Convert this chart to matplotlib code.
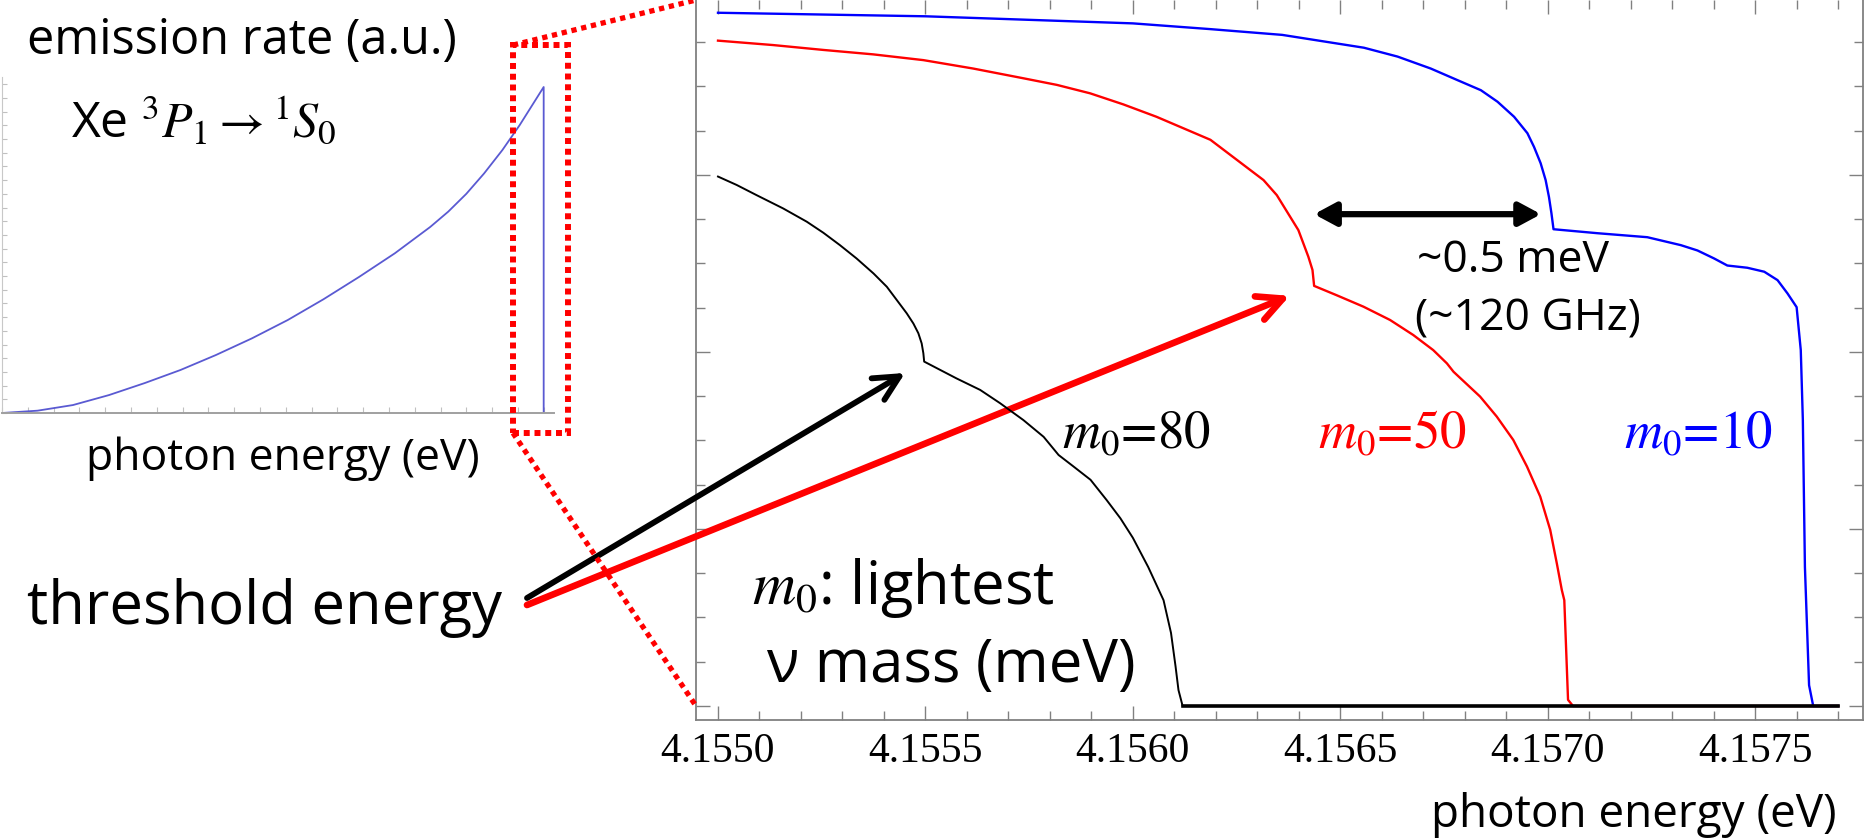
import matplotlib
matplotlib.use('Agg')
import matplotlib.pyplot as plt
from matplotlib.patches import Rectangle
from matplotlib.lines import Line2D
from matplotlib.ticker import MultipleLocator, FormatStrFormatter

# 数据
# main plot: emission rate near the threshold, y in tick units
black_x = [4.155000, 4.155045, 4.155093, 4.155157, 4.155214, 4.155254, 4.155294, 4.155334,
           4.155375, 4.155407, 4.155431, 4.155455, 4.155471, 4.155483, 4.155491, 4.155495,
           4.155497, 4.155575, 4.155632, 4.155680, 4.155736, 4.155785, 4.155821, 4.155857,
           4.155898, 4.155937, 4.155970, 4.156000, 4.156037, 4.156074, 4.156092, 4.156103,
           4.156110, 4.156120, 4.157700]
black_y = [11.96, 11.77, 11.54, 11.24, 10.94, 10.69, 10.41, 10.11,
           9.77, 9.47, 9.17, 8.87, 8.64, 8.42, 8.19, 7.97,
           7.78, 7.40, 7.14, 6.84, 6.46, 6.08, 5.67, 5.41,
           5.11, 4.65, 4.24, 3.80, 3.14, 2.39, 1.65, 0.89,
           0.36, 0.0, 0.0]

red_x = [4.155000, 4.155133, 4.155254, 4.155374, 4.155495, 4.155615, 4.155736, 4.155817,
         4.155897, 4.155977, 4.156057, 4.156122, 4.156187, 4.156315, 4.156347, 4.156399,
         4.156423, 4.156433, 4.156437, 4.156491, 4.156556, 4.156620, 4.156676, 4.156724,
         4.156757, 4.156773, 4.156837, 4.156877, 4.156917, 4.156950, 4.156982, 4.157006,
         4.157022, 4.157034, 4.157040, 4.157049, 4.157061, 4.157700]
red_y = [15.03, 14.93, 14.82, 14.72, 14.59, 14.40, 14.18, 14.03,
         13.84, 13.59, 13.31, 13.05, 12.79, 11.88, 11.54, 10.75,
         10.15, 9.85, 9.49, 9.28, 9.02, 8.72, 8.38, 8.04,
         7.74, 7.55, 6.99, 6.54, 6.01, 5.41, 4.73, 3.98,
         3.22, 2.62, 2.39, 0.14, 0.0, 0.0]

blue_x = [4.155000, 4.155500, 4.156000, 4.156187, 4.156360, 4.156557, 4.156638, 4.156718,
          4.156782, 4.156839, 4.156879, 4.156919, 4.156951, 4.156967, 4.156983, 4.156995,
          4.157003, 4.157009, 4.157014, 4.157120, 4.157240, 4.157321, 4.157361, 4.157401,
          4.157433, 4.157481, 4.157522, 4.157554, 4.157578, 4.157600, 4.157610, 4.157615,
          4.157620, 4.157630, 4.157640, 4.157700]
blue_y = [15.66, 15.58, 15.42, 15.29, 15.16, 14.87, 14.67, 14.40,
          14.14, 13.91, 13.65, 13.31, 12.94, 12.63, 12.26, 11.88,
          11.50, 11.13, 10.77, 10.68, 10.59, 10.41, 10.29, 10.11,
          9.95, 9.90, 9.81, 9.62, 9.32, 9.01, 8.04, 6.46,
          3.14, 0.47, 0.0, 0.0]

# index of the threshold kink in each series
black_kink = 16
red_kink = 18
blue_kink = 18
gap_y = 11.11  # height of the ~0.5 meV arrow

# inset: full spectrum (tick units)
spec_x = [0, 1.38, 2.75, 4.15, 5.54, 6.92, 8.29, 9.69, 11.08, 12.46, 13.84, 15.23,
          16.6, 17.30, 18.0, 18.69, 19.4, 20.07, 21.0, 21.0]
spec_y = [0, 0.17, 0.58, 1.31, 2.19, 3.14, 4.23, 5.45, 6.79, 8.30, 9.93, 11.66,
          13.58, 14.70, 16.0, 17.49, 19.2, 21.02, 23.8, 0.0]

labels = ['$m_0$=80', '$m_0$=50', '$m_0$=10']

# 字体
plt.rcParams['font.family'] = ['Liberation Serif', 'DejaVu Serif']
plt.rcParams['mathtext.fontset'] = 'stix'
SANS = ['Open Sans', 'DejaVu Sans']
STIX = ['STIXGeneral', 'Liberation Serif']

W, H = 1864, 838
fig = plt.figure(figsize=(W / 100, H / 100), dpi=100)


def fx(x):
    return x / W


def fy(y):  # y in pixels from the top
    return 1 - y / H


# main axes
ax = fig.add_axes([fx(696), fy(720), fx(1863 - 696), 720 / H])
ax.plot(blue_x, blue_y, color='#0000ff', lw=1.7, zorder=3)
ax.plot(red_x, red_y, color='#ff0000', lw=1.7, zorder=3)
ax.plot(black_x, black_y, color='black', lw=1.4, zorder=4)
ax.plot(black_x[-2:], black_y[-2:], color='black', lw=2.6, zorder=5)

ax.set_xlim(4.154947, 4.157760)
ax.set_ylim(-0.316, 15.948)
ax.xaxis.set_major_locator(MultipleLocator(0.0005))
ax.xaxis.set_minor_locator(MultipleLocator(0.0001))
ax.xaxis.set_major_formatter(FormatStrFormatter('%.4f'))
ax.yaxis.set_major_locator(MultipleLocator(4))
ax.yaxis.set_minor_locator(MultipleLocator(1))
ax.tick_params(which='both', direction='in', top=True, right=True,
               color='#808080', width=1.0, labelleft=False)
ax.tick_params(which='major', length=10)
ax.tick_params(which='minor', length=6.5)
ax.tick_params(axis='x', labelsize=30, pad=9)
for s in ax.spines.values():
    s.set_color('#808080')
    s.set_linewidth(1.3)
ax.spines['top'].set_visible(False)

# curve labels
for lbl, c, x0 in zip(labels, ['black', '#ff0000', '#0000ff'], [1062, 1318, 1624]):
    fig.text(fx(x0), fy(448), lbl, fontsize=38, family=STIX, color=c,
             ha='left', va='baseline')

# ~0.5 meV arrow between thresholds
ax.annotate('', xy=(blue_x[blue_kink], gap_y), xytext=(red_x[red_kink], gap_y),
            arrowprops=dict(arrowstyle='<|-|>,head_length=0.65,head_width=0.35',
                            color='black', lw=4.5, shrinkA=0, shrinkB=9,
                            mutation_scale=20))
fig.text(fx(1417), fy(272), '~0.5 meV', fontsize=32, family=SANS, va='baseline')
fig.text(fx(1415), fy(330), '(~120 GHz)', fontsize=32, family=SANS, va='baseline')

# threshold energy arrows
ax.annotate('', xy=(black_x[black_kink], black_y[black_kink]), xycoords='data',
            xytext=(527, H - 598), textcoords='figure pixels',
            arrowprops=dict(arrowstyle='->,head_length=0.9,head_width=0.45',
                            color='black', lw=4.2, shrinkA=0, shrinkB=16,
                            mutation_scale=20), annotation_clip=False)
ax.annotate('', xy=(red_x[red_kink], red_y[red_kink]), xycoords='data',
            xytext=(527, H - 605), textcoords='figure pixels',
            arrowprops=dict(arrowstyle='->,head_length=0.9,head_width=0.45',
                            color='#ff0000', lw=4.8, shrinkA=0, shrinkB=19,
                            mutation_scale=20), annotation_clip=False)
fig.text(fx(27), fy(624), 'threshold energy', fontsize=43, family=SANS, va='baseline')

fig.text(fx(752), fy(604), '$m_0$: lightest', fontsize=43, family=SANS, va='baseline')
fig.text(fx(767), fy(682), 'ν mass (meV)', fontsize=43, family=SANS, va='baseline')
fig.text(fx(1837), fy(827), 'photon energy (eV)', fontsize=33, family=SANS,
         ha='right', va='baseline')

# inset: whole spectrum
ins = fig.add_axes([fx(2), fy(413), fx(552), (413 - 77) / H])
ins.plot(spec_x, spec_y, color='#5a5ad2', lw=1.3)
ins.set_xlim(0, 21.4)
ins.set_ylim(0, 24.53)
ins.xaxis.set_major_locator(MultipleLocator(1))
ins.yaxis.set_major_locator(MultipleLocator(1))
ins.tick_params(direction='in', color='#c0c0c0', width=0.8,
                labelbottom=False, labelleft=False)
ins.tick_params(axis='x', length=4.5)
ins.tick_params(axis='y', length=3.5)
ins.spines['top'].set_visible(False)
ins.spines['right'].set_visible(False)
ins.spines['left'].set_color('#c8c8c8')
ins.spines['bottom'].set_color('#a0a0a0')
ins.spines['bottom'].set_linewidth(1.4)
ins.patch.set_alpha(0)

fig.text(fx(27), fy(54), 'emission rate (a.u.)', fontsize=35, family=SANS, va='baseline')
fig.text(fx(71), fy(137), r'Xe $^3P_1 \rightarrow {}^1S_0$', fontsize=36, family=SANS,
         va='baseline')
fig.text(fx(86), fy(470), 'photon energy (eV)', fontsize=32, family=SANS, va='baseline')

# zoom box and connectors
bx0, bx1, by0, by1 = 19.81, 21.95, -1.46, 26.86
ins.add_patch(Rectangle((bx0, by0), bx1 - bx0, by1 - by0, fill=False,
                        ec='#ff0000', lw=4.3, ls=(0, (1, 0.8)), clip_on=False,
                        zorder=6))
pa_top = ins.transData.transform((bx0, by1))
pb_top = ax.transAxes.transform((0, 1))
pa_bot = ins.transData.transform((bx0, by0))
pb_bot = ax.get_yaxis_transform().transform((0, 0))
for pa, pb in [(pa_top, pb_top), (pa_bot, pb_bot)]:
    fig.add_artist(Line2D([pa[0], pb[0]], [pa[1], pb[1]], transform=None,
                          color='#ff0000', lw=3.8, ls=(0, (1, 0.9)),
                          solid_capstyle='butt', dash_capstyle='butt'))

plt.savefig('out.png', dpi=100)
